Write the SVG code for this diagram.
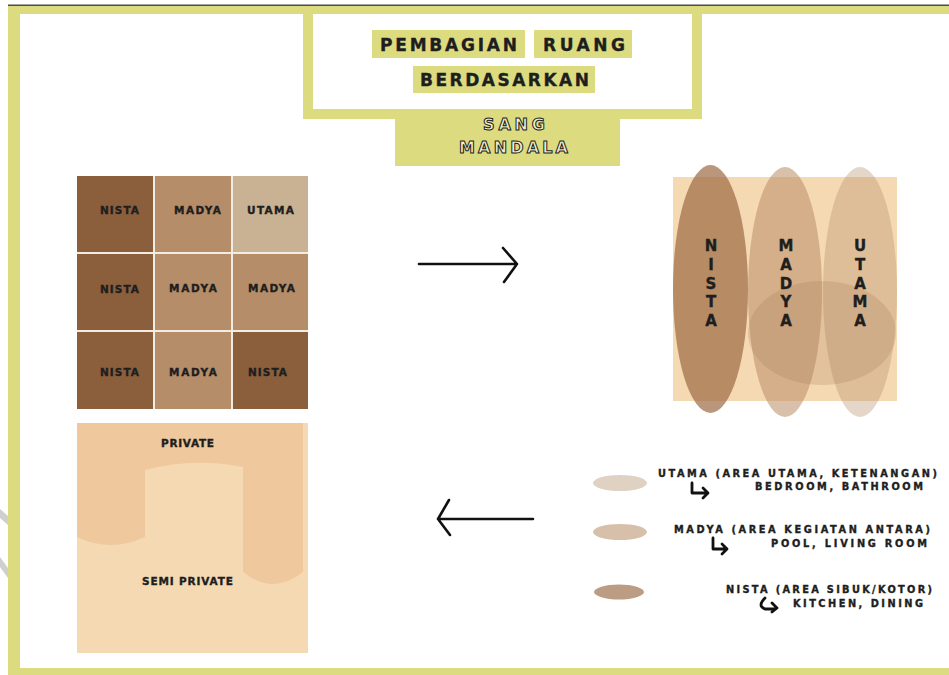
<svg xmlns="http://www.w3.org/2000/svg" width="949" height="675" viewBox="0 0 949 675">
<style>
.y{fill:#dcdb80}
.t{font-family:"DejaVu Sans",Lato,sans-serif;font-weight:bold;fill:#1e1e1e;stroke:#1e1e1e;stroke-width:0.35}
.ttl{font-size:17px}
.g{font-size:10.5px}
.v{font-size:15px;text-anchor:middle}
.lg{font-size:9.8px}
.ol{font-family:"DejaVu Sans",Lato,sans-serif;font-weight:bold;font-size:16px;fill:#f2f0c8;stroke:#222;stroke-width:1}
.arr{fill:none;stroke:#111;stroke-width:2.6;stroke-linecap:round;stroke-linejoin:round}
.ic{fill:none;stroke:#111;stroke-width:2.8;stroke-linecap:round;stroke-linejoin:round}
</style>
<rect width="949" height="675" fill="#ffffff"/>
<g id="frame">
<rect x="8" y="6" width="941" height="669" class="y"/>
<rect x="20" y="14" width="929" height="654" fill="#ffffff"/>
<rect x="8" y="4.5" width="941" height="1.5" fill="#4a4a4a"/>
<polygon points="0,509 8,516 8,525 0,518" fill="#cfcfcf"/>
<polygon points="0,557 8,568 8,578 0,567" fill="#cfcfcf"/>
</g>
<g id="title">
<rect x="303" y="6" width="399" height="113" class="y"/>
<rect x="313" y="14" width="379" height="95" fill="#ffffff"/>
<rect x="372" y="30" width="153" height="28" class="y"/>
<rect x="534" y="30" width="98" height="28" class="y"/>
<rect x="413" y="66" width="182" height="27" class="y"/>
<text class="t ttl" x="380" y="51" textLength="137" lengthAdjust="spacing">PEMBAGIAN</text>
<text class="t ttl" x="543" y="51" textLength="82" lengthAdjust="spacing">RUANG</text>
<text class="t ttl" x="420" y="86" textLength="169" lengthAdjust="spacing">BERDASARKAN</text>
</g>
<g id="subtitle">
<rect x="395" y="119" width="225" height="47" class="y"/>
<text class="ol" x="483" y="130" textLength="62" lengthAdjust="spacing">SANG</text>
<text class="ol" x="459" y="153" textLength="109" lengthAdjust="spacing">MANDALA</text>
</g>
<g id="grid">
<rect x="77" y="176" width="231" height="233" fill="#f3ece2"/>
<rect x="77" y="176" width="76" height="76" fill="#8b5e3c"/>
<rect x="155" y="176" width="76" height="76" fill="#b68d69"/>
<rect x="233" y="176" width="75" height="76" fill="#c9b194"/>
<rect x="77" y="254" width="76" height="76" fill="#8b5e3c"/>
<rect x="155" y="254" width="76" height="76" fill="#b68d69"/>
<rect x="233" y="254" width="75" height="76" fill="#b68d69"/>
<rect x="77" y="332" width="76" height="77" fill="#8b5e3c"/>
<rect x="155" y="332" width="76" height="77" fill="#b68d69"/>
<rect x="233" y="332" width="75" height="77" fill="#8b5e3c"/>
<text class="t g" x="100" y="214" textLength="39" lengthAdjust="spacing">NISTA</text>
<text class="t g" x="174" y="214" textLength="47" lengthAdjust="spacing">MADYA</text>
<text class="t g" x="247" y="214" textLength="47" lengthAdjust="spacing">UTAMA</text>
<text class="t g" x="100" y="293" textLength="39" lengthAdjust="spacing">NISTA</text>
<text class="t g" x="169" y="292" textLength="48" lengthAdjust="spacing">MADYA</text>
<text class="t g" x="248" y="292" textLength="47" lengthAdjust="spacing">MADYA</text>
<text class="t g" x="100" y="376" textLength="39" lengthAdjust="spacing">NISTA</text>
<text class="t g" x="169" y="376" textLength="48" lengthAdjust="spacing">MADYA</text>
<text class="t g" x="248" y="376" textLength="39" lengthAdjust="spacing">NISTA</text>
</g>
<g id="zones">
<rect x="673" y="177" width="224" height="224" fill="#f5d9b3"/>
<ellipse cx="710.5" cy="289" rx="37.5" ry="124" fill="#9c6b45" opacity="0.7"/>
<ellipse cx="785" cy="292" rx="37" ry="125" fill="#b88c66" opacity="0.55"/>
<ellipse cx="860" cy="292" rx="37" ry="125" fill="#b8926e" opacity="0.38"/>
<ellipse cx="822" cy="333" rx="74" ry="52" fill="#a07450" opacity="0.22"/>
<text class="t v" x="711" y="251">N</text>
<text class="t v" x="711" y="270">I</text>
<text class="t v" x="711" y="289">S</text>
<text class="t v" x="711" y="307">T</text>
<text class="t v" x="711" y="326">A</text>
<text class="t v" x="786" y="251">M</text>
<text class="t v" x="786" y="270">A</text>
<text class="t v" x="786" y="289">D</text>
<text class="t v" x="786" y="307">Y</text>
<text class="t v" x="786" y="326">A</text>
<text class="t v" x="860" y="251">U</text>
<text class="t v" x="860" y="270">T</text>
<text class="t v" x="860" y="289">A</text>
<text class="t v" x="860" y="307">M</text>
<text class="t v" x="860" y="326">A</text>
</g>
<g id="privacy">
<rect x="77" y="423" width="231" height="230" fill="#f5d9b3"/>
<path d="M77,423 H303 V572 Q273,596 243,572 V467 Q194,457 145,470 V537 Q111,553 77,537 Z" fill="#efc99d"/>
<text class="t g" x="161" y="447" textLength="53" lengthAdjust="spacing">PRIVATE</text>
<text class="t g" x="142" y="585" textLength="91" lengthAdjust="spacing">SEMI PRIVATE</text>
</g>
<g id="legend">
<ellipse cx="620" cy="483" rx="27" ry="8" fill="#e0d2c3"/>
<ellipse cx="620" cy="532" rx="27" ry="8" fill="#d7c0a9"/>
<ellipse cx="619" cy="592" rx="25" ry="7.5" fill="#bc9c83"/>
<text class="t lg" x="658" y="477" textLength="279" lengthAdjust="spacing">UTAMA (AREA UTAMA, KETENANGAN)</text>
<text class="t lg" x="755" y="490" textLength="168" lengthAdjust="spacing">BEDROOM, BATHROOM</text>
<text class="t lg" x="674" y="533" textLength="256" lengthAdjust="spacing">MADYA (AREA KEGIATAN ANTARA)</text>
<text class="t lg" x="771" y="547" textLength="156" lengthAdjust="spacing">POOL, LIVING ROOM</text>
<text class="t lg" x="726" y="593" textLength="206" lengthAdjust="spacing">NISTA (AREA SIBUK/KOTOR)</text>
<text class="t lg" x="793" y="607" textLength="130" lengthAdjust="spacing">KITCHEN, DINING</text>
<path class="ic" d="M692,483 V493 H707 M703,488 L708,493 L703,498"/>
<path class="ic" d="M713,538 V549 H727 M722,544 L727,549 L722,554"/>
<path class="ic" d="M765,598 Q757,606 765,609 H775 M772,603 L777,608 L772,612"/>
</g>
<g id="connectors">
<path class="arr" d="M419,264 H517 M503,248 L517,264 L504,282"/>
<path class="arr" d="M533,519 H438 M449,500 L438,519 L450,535"/>
</g>
</svg>
